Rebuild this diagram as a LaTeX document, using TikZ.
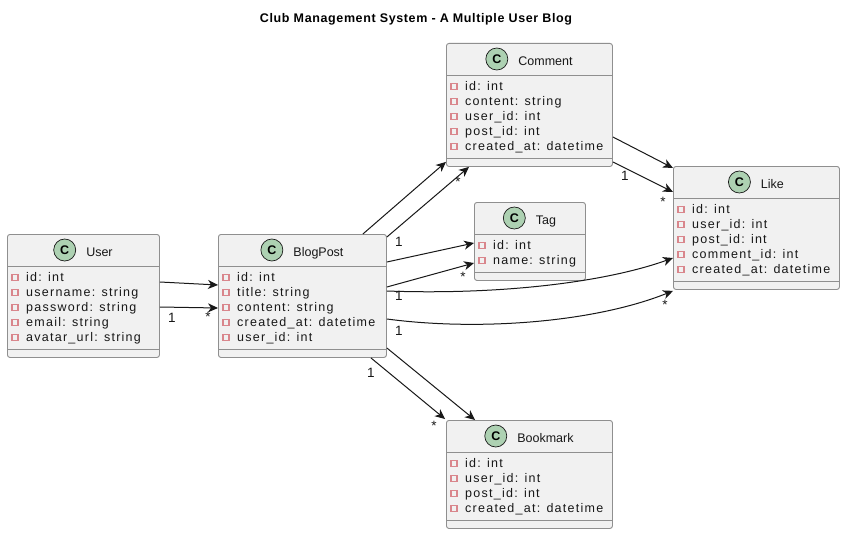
\documentclass[tikz,border=0pt]{standalone}
\usepackage{fontspec}
\setmainfont{Liberation Sans}
\newfontfamily\fieldfont[LetterSpace=10]{Liberation Sans}
\newfontfamily\titlefont[LetterSpace=5]{Liberation Sans}
\usetikzlibrary{positioning, calc, arrows.meta}
\definecolor{boxfill}{HTML}{F1F1F1}
\definecolor{boxline}{HTML}{8F8F8F}
\definecolor{iconfill}{HTML}{ADD1B2}
\definecolor{privred}{HTML}{D9868C}
\definecolor{linkcol}{HTML}{181818}

\begin{document}
\begin{tikzpicture}[x=1pt, y=-1pt,
    cls/.style={draw=boxline, fill=boxfill, line width=0.9pt, rounded corners=2.5pt, anchor=north west, inner sep=0pt},
    sep/.style={draw=boxline, line width=0.9pt},
    cname/.style={font=\fontsize{12.5}{14}\selectfont, inner sep=0pt, text height=9pt, text depth=0pt, text=linkcol},
    cicon/.style={circle, draw=linkcol, fill=iconfill, line width=0.7pt, minimum size=22pt, inner sep=0pt, font=\fontsize{12.5}{14}\selectfont\bfseries},
    fld/.style={anchor=west, inner sep=0pt, text height=9.5pt, text depth=1pt, font=\fieldfont\fontsize{12.5}{15}\selectfont, text=linkcol},
    priv/.style={draw=privred, line width=1.3pt},
    link/.style={draw=linkcol, line width=1pt, -{Stealth[length=10pt, width=9pt, inset=3pt]}},
    lbl/.style={inner sep=0pt, text height=10pt, text depth=0pt, font=\fontsize{13.5}{15}\selectfont, text=linkcol}
  ]
  \fill[white] (0,0) rectangle (848,535);
  \useasboundingbox (0,0) rectangle (848,535);

  \node[anchor=base, font=\titlefont\bfseries\fontsize{12.5}{14}\selectfont] (title) at (416,23) {Club Management System - A Multiple User Blog};

  % User
  \node[cls, minimum width=152pt, minimum height=123pt] (user) at (7,234) {};
  \node[cname] (user-name) at ($(user.north)+(16,18)$) {User};
  \node[cicon, left=10pt of user-name, yshift=2pt] (user-icon) {C};
  \draw[sep] ($(user.north west)+(0,32)$) -- ($(user.north east)+(0,32)$);
  \draw[sep] ($(user.south west)+(0,-8)$) -- ($(user.south east)+(0,-8)$);
  \foreach \f [count=\i from 0] in {id: int, username: string, password: string, email: string, avatar\_url: string} {
    \draw[priv] ($(user.north west)+(5,40.5+15*\i)$) rectangle ++(6,6);
    \node[fld] (user-f\i) at ($(user.north west)+(19,43.5+15*\i)$) {\f};
  }

  % BlogPost
  \node[cls, minimum width=168pt, minimum height=123pt] (blog) at (218,234) {};
  \node[cname] (blog-name) at ($(blog.north)+(16,18)$) {BlogPost};
  \node[cicon, left=10pt of blog-name, yshift=2pt] (blog-icon) {C};
  \draw[sep] ($(blog.north west)+(0,32)$) -- ($(blog.north east)+(0,32)$);
  \draw[sep] ($(blog.south west)+(0,-8)$) -- ($(blog.south east)+(0,-8)$);
  \foreach \f [count=\i from 0] in {id: int, title: string, content: string, created\_at: datetime, user\_id: int} {
    \draw[priv] ($(blog.north west)+(5,40.5+15*\i)$) rectangle ++(6,6);
    \node[fld] (blog-f\i) at ($(blog.north west)+(19,43.5+15*\i)$) {\f};
  }

  % Comment
  \node[cls, minimum width=166pt, minimum height=123pt] (comment) at (446,43) {};
  \node[cname] (comment-name) at ($(comment.north)+(16,18)$) {Comment};
  \node[cicon, left=10pt of comment-name, yshift=2pt] (comment-icon) {C};
  \draw[sep] ($(comment.north west)+(0,32)$) -- ($(comment.north east)+(0,32)$);
  \draw[sep] ($(comment.south west)+(0,-8)$) -- ($(comment.south east)+(0,-8)$);
  \foreach \f [count=\i from 0] in {id: int, content: string, user\_id: int, post\_id: int, created\_at: datetime} {
    \draw[priv] ($(comment.north west)+(5,40.5+15*\i)$) rectangle ++(6,6);
    \node[fld] (comment-f\i) at ($(comment.north west)+(19,43.5+15*\i)$) {\f};
  }

  % Tag
  \node[cls, minimum width=111pt, minimum height=78pt] (tag) at (474,202) {};
  \node[cname] (tag-name) at ($(tag.north)+(16,18)$) {Tag};
  \node[cicon, left=10pt of tag-name, yshift=2pt] (tag-icon) {C};
  \draw[sep] ($(tag.north west)+(0,32)$) -- ($(tag.north east)+(0,32)$);
  \draw[sep] ($(tag.south west)+(0,-8)$) -- ($(tag.south east)+(0,-8)$);
  \foreach \f [count=\i from 0] in {id: int, name: string} {
    \draw[priv] ($(tag.north west)+(5,40.5+15*\i)$) rectangle ++(6,6);
    \node[fld] (tag-f\i) at ($(tag.north west)+(19,43.5+15*\i)$) {\f};
  }

  % Like
  \node[cls, minimum width=166pt, minimum height=123pt] (like) at (673,166) {};
  \node[cname] (like-name) at ($(like.north)+(16,18)$) {Like};
  \node[cicon, left=10pt of like-name, yshift=2pt] (like-icon) {C};
  \draw[sep] ($(like.north west)+(0,32)$) -- ($(like.north east)+(0,32)$);
  \draw[sep] ($(like.south west)+(0,-8)$) -- ($(like.south east)+(0,-8)$);
  \foreach \f [count=\i from 0] in {id: int, user\_id: int, post\_id: int, comment\_id: int, created\_at: datetime} {
    \draw[priv] ($(like.north west)+(5,40.5+15*\i)$) rectangle ++(6,6);
    \node[fld] (like-f\i) at ($(like.north west)+(19,43.5+15*\i)$) {\f};
  }

  % Bookmark
  \node[cls, minimum width=166pt, minimum height=108pt] (bookmark) at (446,420) {};
  \node[cname] (bookmark-name) at ($(bookmark.north)+(16,18)$) {Bookmark};
  \node[cicon, left=10pt of bookmark-name, yshift=2pt] (bookmark-icon) {C};
  \draw[sep] ($(bookmark.north west)+(0,32)$) -- ($(bookmark.north east)+(0,32)$);
  \draw[sep] ($(bookmark.south west)+(0,-8)$) -- ($(bookmark.south east)+(0,-8)$);
  \foreach \f [count=\i from 0] in {id: int, user\_id: int, post\_id: int, created\_at: datetime} {
    \draw[priv] ($(bookmark.north west)+(5,40.5+15*\i)$) rectangle ++(6,6);
    \node[fld] (bookmark-f\i) at ($(bookmark.north west)+(19,43.5+15*\i)$) {\f};
  }

  % associations
  \draw[link] ($(user.north east)+(0,48)$) -- ($(blog.north west)+(0,51)$);
  \draw[link] ($(user.north east)+(0,73)$) -- ($(blog.north west)+(0,74)$)
    node[lbl, at start, shift={(12,10)}] (ub-one) {1} node[lbl, at end, shift={(-10,8)}] (ub-many) {*};

  \draw[link] ($(blog.north east)+(-24,0)$) -- ($(comment.south west)+(0,-5)$);
  \draw[link] ($(blog.north east)+(0,3)$) -- ($(comment.south west)+(23,0)$)
    node[lbl, at start, shift={(12,4)}] (bc-one) {1} node[lbl, at end, shift={(-11,15)}] (bc-many) {*};

  \draw[link] ($(comment.north east)+(0,94)$) -- ($(like.north west)+(0,2)$);
  \draw[link] ($(comment.north east)+(0,119)$) -- ($(like.north west)+(0,26)$)
    node[lbl, at start, shift={(12,13)}] (cl-one) {1} node[lbl, at end, shift={(-10,9)}] (cl-many) {*};

  \draw[link] ($(blog.north east)+(0,28)$) -- ($(tag.north west)+(0,41)$);
  \draw[link] ($(blog.north east)+(0,53)$) -- ($(tag.north west)+(0,61)$)
    node[lbl, at end, shift={(-11,13)}] (bt-many) {*};

  \draw[link] ($(blog.north east)+(0,57)$) .. controls +(110,4) and +(-70,25) .. ($(like.north west)+(0,92)$)
    node[lbl, at start, shift={(12,4)}] (bl-one) {1};
  \draw[link] ($(blog.north east)+(0,85)$) .. controls +(90,12) and +(-80,32) .. ($(like.south west)+(0,1)$)
    node[lbl, at start, shift={(12,11)}] (bl2-one) {1} node[lbl, at end, shift={(-8,14)}] (bl2-many) {*};

  \draw[link] ($(blog.north east)+(0,114)$) -- ($(bookmark.north west)+(29,0)$);
  \draw[link] ($(blog.south east)+(-16,0)$) -- ($(bookmark.north west)+(-1,-1)$)
    node[lbl, at start, shift={(0,15)}] (bb-one) {1} node[lbl, at end, shift={(-11,6)}] (bb-many) {*};
\end{tikzpicture}
\end{document}
